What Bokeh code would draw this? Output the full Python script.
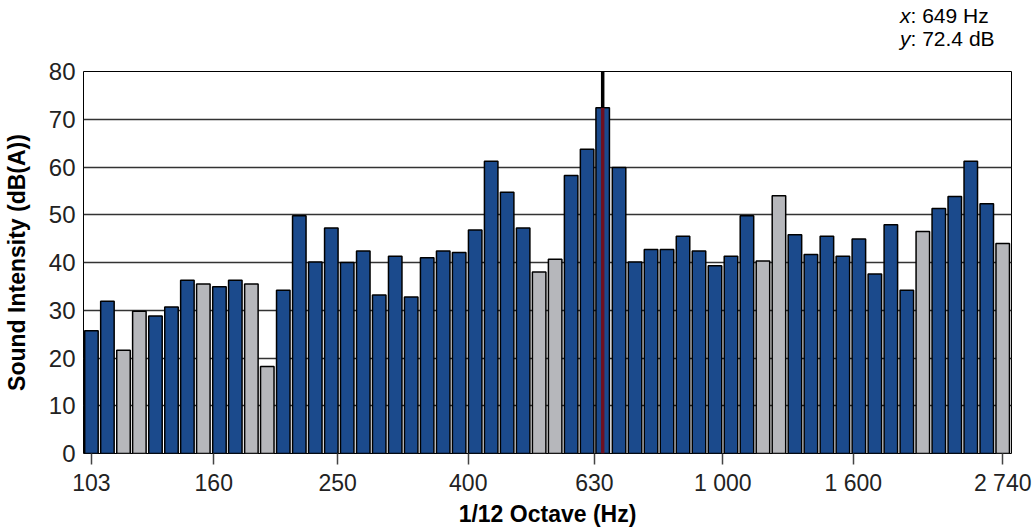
import numpy as np
from bokeh.plotting import figure
from bokeh.layouts import column
from bokeh.models import FixedTicker, ColumnDataSource, Range1d, Div
from bokeh.transform import factor_cmap
from bokeh.embed import file_html
from bokeh.resources import INLINE

# 1/12-octave band centre frequencies (Hz)
freq_hz = [103.0, 109.1, 115.6, 122.4, 129.7, 137.4, 145.5, 154.1, 163.3, 172.9,
           183.2, 194.0, 205.5, 217.7, 230.6, 244.3, 258.7, 274.1, 290.3, 307.5,
           325.7, 345.0, 365.5, 387.1, 410.1, 434.4, 460.1, 487.4, 516.3, 546.9,
           579.3, 613.6, 649.0, 688.4, 729.2, 772.4, 818.2, 866.7, 918.0, 972.4,
           1030.0, 1091.0, 1155.7, 1224.2, 1296.7, 1373.5, 1454.9, 1541.1, 1632.4, 1729.1,
           1831.6, 1940.1, 2055.0, 2176.8, 2305.8, 2442.4, 2587.1, 2740.0]

# Sound intensity per band (dB(A))
level_db = [25.7, 31.9, 21.6, 29.8, 28.8, 30.7, 36.3, 35.5, 34.9, 36.3,
            35.5, 18.2, 34.2, 49.8, 40.1, 47.2, 40.0, 42.4, 33.2, 41.3,
            32.8, 41.0, 42.4, 42.1, 46.8, 61.2, 54.7, 47.2, 38.0, 40.7,
            58.2, 63.7, 72.4, 59.9, 40.1, 42.7, 42.7, 45.5, 42.4, 39.3,
            41.3, 49.8, 40.3, 54.0, 45.8, 41.7, 45.5, 41.3, 44.9, 37.6,
            47.9, 34.2, 46.5, 51.3, 53.8, 61.2, 52.3, 44.0]

# band status: "on" = highlighted (blue), "off" = grey
band_flag = ["on", "on", "off", "off", "on", "on", "on", "off", "on", "on",
             "off", "off", "on", "on", "on", "on", "on", "on", "on", "on",
             "on", "on", "on", "on", "on", "on", "on", "on", "off", "off",
             "on", "on", "on", "on", "on", "on", "on", "on", "on", "on",
             "on", "on", "off", "off", "on", "on", "on", "on", "on", "on",
             "on", "on", "off", "on", "on", "on", "on", "off"]

tick_hz = [103, 160, 250, 400, 630, 1000, 1600, 2740]
tick_labels = ["103", "160", "250", "400", "630", "1 000", "1 600", "2 740"]
y_ticks = [0, 10, 20, 30, 40, 50, 60, 70, 80]

cursor_hz = 649
cursor_db = 72.4

f = np.array(freq_hz)
half = np.exp(0.0243)
src = ColumnDataSource(dict(left=f / half, right=f * half, top=level_db,
                            bottom=[0] * len(f), flag=band_flag))

font = "Liberation Sans"

readout = Div(
    text=('<div style="margin-left:900px; margin-top:5px; font-family:\'Liberation Sans\', Arial, sans-serif; '
          'font-size:21px; line-height:22.7px; color:#000; white-space:nowrap;">'
          '<i>x</i>: %d Hz<br><i>y</i>: %.1f dB</div>') % (cursor_hz, cursor_db),
    width=1032, height=59, margin=(0, 0, 0, 0))

p = figure(width=1032, height=470, x_axis_type="log",
           x_range=Range1d(100.1, 2828), y_range=Range1d(0, 80),
           output_backend="svg", toolbar_location=None,
           min_border_left=83, min_border_right=21,
           min_border_top=12, min_border_bottom=75, margin=(0, 0, 0, 0))

p.quad(left="left", right="right", top="top", bottom="bottom", source=src,
       fill_color=factor_cmap("flag", ["#1b4a8c", "#b6b7bb"], ["on", "off"]),
       line_color="black", line_width=1.5)

p.segment(x0=[cursor_hz], y0=[0], x1=[cursor_hz], y1=[cursor_db],
          line_color="#6e1020", line_width=3.5)
p.segment(x0=[cursor_hz], y0=[cursor_db], x1=[cursor_hz], y1=[80],
          line_color="black", line_width=3.5)

p.outline_line_color = "black"
p.outline_line_width = 1
p.background_fill_color = "white"
p.border_fill_color = "white"

p.xgrid.grid_line_color = None
p.ygrid.ticker = FixedTicker(ticks=y_ticks)
p.ygrid.grid_line_color = "#333333"
p.ygrid.grid_line_width = 1.5

xa = p.xaxis[0]
xa.ticker = FixedTicker(ticks=tick_hz)
xa.major_label_overrides = {t: l for t, l in zip(tick_hz, tick_labels)}
xa.axis_line_color = None
xa.major_tick_out = 11
xa.major_tick_in = 0
xa.major_tick_line_color = "#444444"
xa.major_tick_line_width = 1.5
xa.minor_tick_line_color = None
xa.major_label_text_font = font
xa.major_label_text_font_size = "23px"
xa.major_label_text_color = "#222222"
xa.major_label_standoff = 5
xa.axis_label = "1/12 Octave (Hz)"
xa.axis_label_text_font = font
xa.axis_label_text_font_style = "bold"
xa.axis_label_text_font_size = "23px"
xa.axis_label_text_color = "black"
xa.axis_label_standoff = 2

ya = p.yaxis[0]
ya.ticker = FixedTicker(ticks=y_ticks)
ya.axis_line_color = None
ya.major_tick_out = 0
ya.major_tick_in = 0
ya.minor_tick_line_color = None
ya.major_label_text_font = font
ya.major_label_text_font_size = "24px"
ya.major_label_text_color = "#222222"
ya.major_label_standoff = 8
ya.axis_label = "Sound Intensity (dB(A))"
ya.axis_label_text_font = font
ya.axis_label_text_font_style = "bold"
ya.axis_label_text_font_size = "23px"
ya.axis_label_text_color = "black"
ya.axis_label_standoff = 16

layout = column(readout, p, spacing=0, margin=(0, 0, 0, 0))
open("out.html", "w").write(file_html(layout, INLINE))
